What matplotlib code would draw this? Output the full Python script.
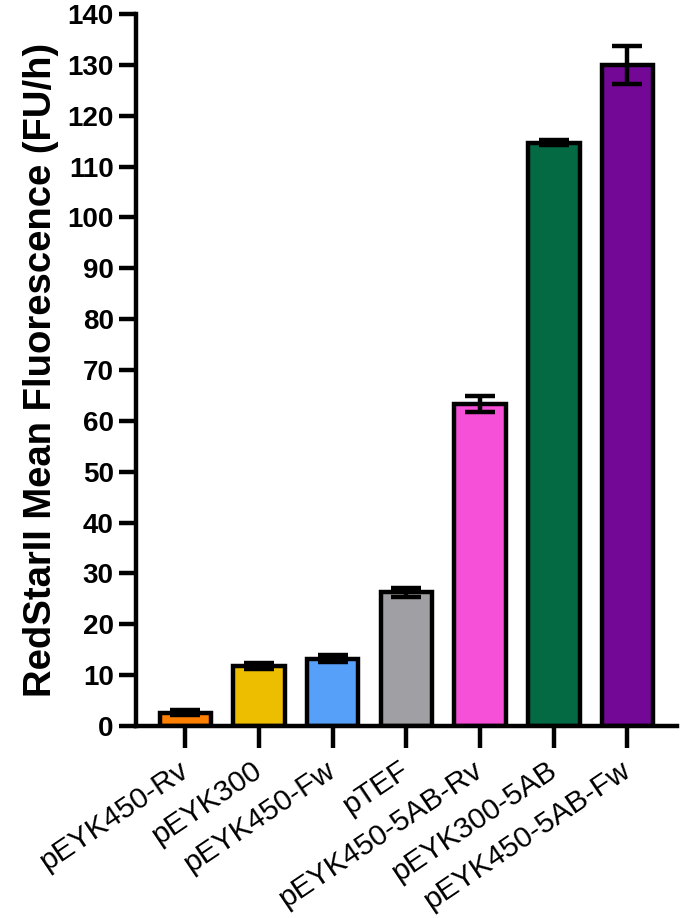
import numpy as np
import matplotlib.pyplot as plt

plt.rcParams['font.family'] = ['Liberation Sans', 'DejaVu Sans']

labels = ['pEYK450-Rv', 'pEYK300', 'pEYK450-Fw', 'pTEF',
          'pEYK450-5AB-Rv', 'pEYK300-5AB', 'pEYK450-5AB-Fw']
means = [2.6, 11.8, 13.2, 26.3, 63.3, 114.7, 130.0]
errors = [0.5, 0.6, 0.7, 0.9, 1.6, 0.5, 3.8]
colors = ['#FF7F00', '#EDBE00', '#56A0FA', '#A0A0A4', '#F64FD8', '#046A44', '#730896']

fig = plt.figure(figsize=(6.85, 9.18), dpi=100)
ax = fig.add_axes([0.1985, 0.2092, 0.7895, 0.7755])

lw = 3.2
x = np.arange(len(labels))
ax.bar(x, means, width=0.7, color=colors, edgecolor='black', linewidth=lw, zorder=2)
ax.errorbar(x, means, yerr=errors, fmt='none', ecolor='black', elinewidth=lw,
            capsize=11, capthick=lw, zorder=3)

ax.set_xlim(-0.67, 6.67)
ax.set_ylim(0, 140)
ax.set_yticks(range(0, 141, 10))
ax.set_xticks(x)
ax.set_xticklabels(labels, rotation=34, ha='right', va='center', rotation_mode='anchor', fontsize=21.5)
for lab in ax.get_yticklabels():
    lab.set_fontweight('bold')
    lab.set_fontsize(20)
ax.set_ylabel('RedStarII Mean Fluorescence (FU/h)', fontsize=27.5, fontweight='bold', labelpad=6)

for s in ['top', 'right']:
    ax.spines[s].set_visible(False)
for s in ['left', 'bottom']:
    ax.spines[s].set_linewidth(lw)
ax.tick_params(axis='y', length=12, width=lw, pad=4)
ax.tick_params(axis='x', length=16, width=lw, pad=14)

fig.savefig('out.png', dpi=100)
